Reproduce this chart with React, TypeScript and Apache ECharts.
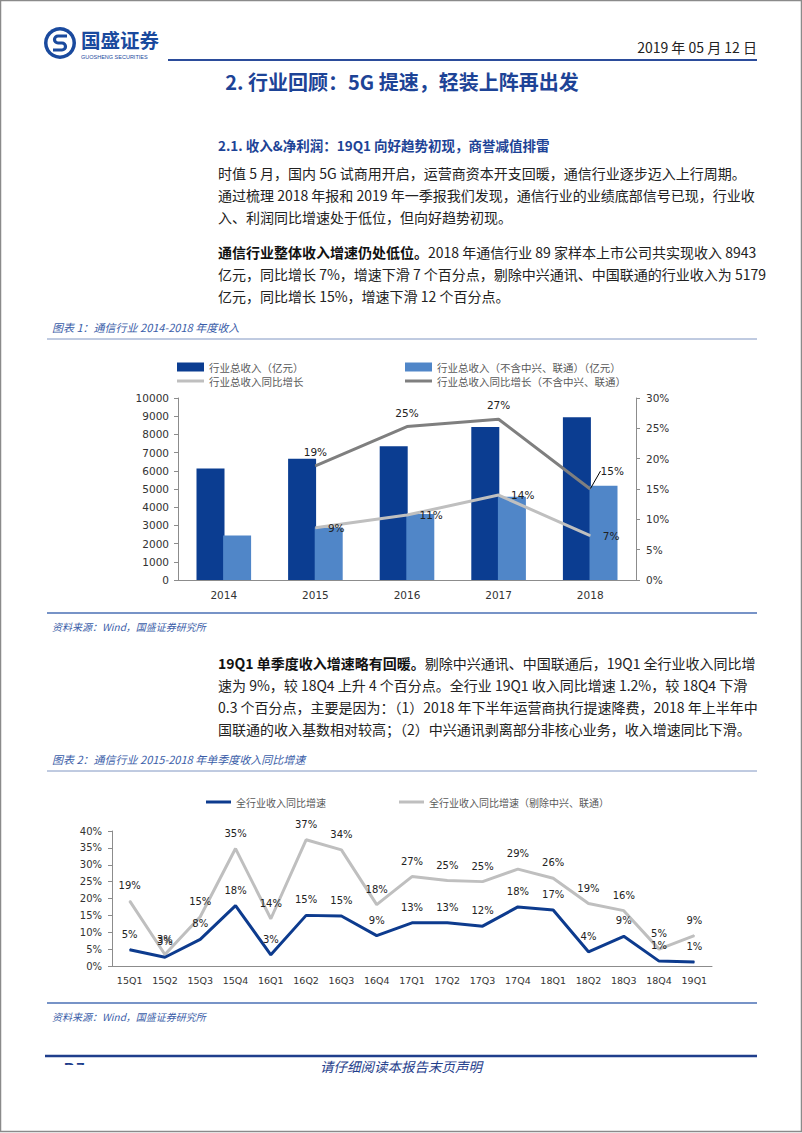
import React, { useEffect, useRef } from "react";
import * as echarts from "echarts";

// ---------- data ----------
const years = ["2014", "2015", "2016", "2017", "2018"];
const revenueTotal = [6120, 6660, 7350, 8400, 8943];
const revenueExcl = [2450, 2880, 3620, 4580, 5179];
const growthTotal = [null, 8.6, 10.7, 14.0, 7.3];
const growthExcl = [null, 18.8, 25.3, 26.5, 15.0];

const quarters = ["15Q1", "15Q2", "15Q3", "15Q4", "16Q1", "16Q2", "16Q3", "16Q4", "17Q1", "17Q2", "17Q3", "17Q4", "18Q1", "18Q2", "18Q3", "18Q4", "19Q1"];
const qGrowthAll = [4.8, 2.6, 7.9, 17.9, 3.3, 15.0, 14.8, 9.0, 12.8, 12.8, 11.8, 17.5, 16.6, 4.2, 8.8, 1.45, 1.2];
const qGrowthExcl = [19.3, 3.4, 14.6, 34.8, 14.0, 37.4, 34.4, 18.2, 26.5, 25.3, 25.0, 28.7, 26.0, 18.5, 16.4, 5.0, 9.0];

const S1 = ["行业总收入（亿元）", "行业总收入（不含中兴、联通）（亿元）", "行业总收入同比增长", "行业总收入同比增长（不含中兴、联通）"];
const S2 = ["全行业收入同比增速", "全行业收入同比增速（剔除中兴、联通）"];

const para1 = [
  "时值 5 月，国内 5G 试商用开启，运营商资本开支回暖，通信行业逐步迈入上行周期。",
  "通过梳理 2018 年报和 2019 年一季报我们发现，通信行业的业绩底部信号已现，行业收",
  "入、利润同比增速处于低位，但向好趋势初现。",
];
const para2 = [
  "{b|通信行业整体收入增速仍处低位。}2018 年通信行业 89 家样本上市公司共实现收入 8943",
  "亿元，同比增长 7%，增速下滑 7 个百分点，剔除中兴通讯、中国联通的行业收入为 5179",
  "亿元，同比增长 15%，增速下滑 12 个百分点。",
];
const para3 = [
  "{b|19Q1 单季度收入增速略有回暖。}剔除中兴通讯、中国联通后，19Q1 全行业收入同比增",
  "速为 9%，较 18Q4 上升 4 个百分点。全行业 19Q1 收入同比增速 1.2%，较 18Q4 下滑",
  "0.3 个百分点，主要是因为：（1）2018 年下半年运营商执行提速降费，2018 年上半年中",
  "国联通的收入基数相对较高；（2）中兴通讯剥离部分非核心业务，收入增速同比下滑。",
];

// ---------- styles ----------
const CJK = "'Noto Sans CJK SC', sans-serif";
const NUM = "'DejaVu Sans', Verdana, sans-serif";
const BLUE = "#1D4396";
const CAP = "#3A5DA8";

echarts.graphic.registerShape(
  "logoS",
  echarts.graphic.extendPath("M7,-7 L-2,-7 A3.5,3.5 0 0 0 -2,0 L2,0 A3.5,3.5 0 0 1 2,7 L-7,7", {})
);

function T(x: number, y: number, text: string, o: any = {}) {
  const style: any = {
    text,
    fill: o.fill || "#222",
    fontSize: o.size || 14,
    fontFamily: o.family || CJK,
    fontWeight: o.weight || "normal",
    fontStyle: o.style || "normal",
    textAlign: o.align || "left",
    textVerticalAlign: "middle",
    align: o.align || "left",
    verticalAlign: "middle",
  };
  if (o.rich) style.rich = o.rich;
  return { type: "text", x, y, z: 10, style };
}
function L(x1: number, y1: number, x2: number, y2: number, color: string, w: number) {
  return { type: "line", z: 10, shape: { x1, y1, x2, y2 }, style: { stroke: color, lineWidth: w } };
}

function buildGraphics() {
  const g: any[] = [];
  g.push({ type: "rect", z: 1, shape: { x: 0.5, y: 0.5, width: 801, height: 1131 }, style: { fill: "none", stroke: "#8a8a8a", lineWidth: 1.5 } });
  // logo
  g.push({ type: "circle", z: 10, shape: { cx: 60, cy: 43, r: 16 }, style: { fill: "#1A4A9E" } });
  g.push({ type: "circle", z: 11, shape: { cx: 60, cy: 43, r: 12.5 }, style: { fill: "#fff" } });
  g.push({ type: "logoS", z: 12, x: 60, y: 43, style: { fill: "none", stroke: "#1A4A9E", lineWidth: 3.2 } });
  g.push(T(81, 39, "国盛证券", { size: 19.5, weight: "bold", fill: "#1A4A9E" }));
  g.push(T(81, 56.5, "GUOSHENG SECURITIES", { size: 5.5, family: "'Liberation Sans', Arial", fill: "#1A4A9E" }));
  g.push(T(757, 47, "2019 年 05 月 12 日", { size: 14, align: "right", fill: "#222" }));
  g.push(L(168, 60, 757, 60, "#2B4C9B", 2));
  // titles
  g.push(T(402, 81, "2. 行业回顾：5G 提速，轻装上阵再出发", { size: 20, weight: "bold", fill: BLUE, align: "center" }));
  g.push(T(218, 145, "2.1. 收入&净利润：19Q1 向好趋势初现，商誉减值排雷", { size: 13.5, weight: "bold", fill: BLUE }));
  const rich = { b: { fontWeight: "bold", fontSize: 14, fontFamily: CJK, fill: "#111" } };
  para1.forEach((t, i) => g.push(T(218, 173 + i * 22, t)));
  para2.forEach((t, i) => g.push(T(218, 252 + i * 22, t, { rich })));
  para3.forEach((t, i) => g.push(T(218, 663 + i * 22, t, { rich })));
  // captions / sources
  g.push(T(52, 327, "图表 1：通信行业 2014-2018 年度收入", { size: 11, style: "italic", fill: CAP }));
  g.push(L(47, 339, 757, 339, "#8096C2", 1));
  g.push(L(47, 613, 757, 613, "#4A6FB5", 1.5));
  g.push(T(52, 626, "资料来源：Wind，国盛证券研究所", { size: 10, style: "italic", fill: CAP }));
  g.push(T(52, 759, "图表 2：通信行业 2015-2018 年单季度收入同比增速", { size: 11, style: "italic", fill: CAP }));
  g.push(L(47, 771, 757, 771, "#8096C2", 1));
  g.push(L(47, 1003, 757, 1003, "#4A6FB5", 1.5));
  g.push(T(52, 1016, "资料来源：Wind，国盛证券研究所", { size: 10, style: "italic", fill: CAP }));
  // footer
  g.push(L(45, 1056, 757, 1056, "#1F3E8C", 2.5));
  g.push(T(64, 1067, "P.7", { size: 15, weight: "bold", family: "'Liberation Sans', Arial", fill: "#1F3E8C" }));
  g.push({ type: "rect", z: 20, shape: { x: 58, y: 1065, width: 40, height: 14 }, style: { fill: "#fff" } });
  g.push(T(401, 1066, "请仔细阅读本报告末页声明", { size: 13.5, style: "italic", fill: "#1F3E8C", align: "center" }));
  return g;
}

const axisGray = "#8c8c8c";
const lblStyle = { color: "#333", fontFamily: NUM, fontSize: 10.5 };
const pct = (p: any) => Math.round(p.value) + "%";

function legendItem(name: string, left: number, top: number, icon: any, fontSize: number) {
  return {
    data: [name],
    left,
    top,
    padding: 0,
    icon: "rect",
    itemWidth: icon.w,
    itemHeight: icon.h,
    textStyle: { color: "#595959", fontFamily: CJK, fontSize, lineHeight: 14 },
  };
}

function lineSeries(name: string, xi: number, yi: number, data: any[], color: string, z: number, label: any, extra: any = {}) {
  return {
    name, type: "line", xAxisIndex: xi, yAxisIndex: yi, data,
    color, lineStyle: { width: 3, color },
    symbol: "circle", symbolSize: 1, showSymbol: true, itemStyle: { color },
    z,
    label: { show: true, color: "#222", fontFamily: NUM, formatter: pct, ...label },
    ...extra,
  };
}

// 2018 label of the "excl." line sits up-right with a guide line
const growthExclData = growthExcl.map((v, i) =>
  i === growthExcl.length - 1
    ? { value: v, labelLine: { show: true, lineStyle: { color: "#000", width: 1 } } }
    : v
);

export default function App() {
  const ref = useRef<HTMLDivElement>(null);
  useEffect(() => {
    document.body.style.margin = "0";
    const chart = echarts.init(ref.current!, undefined, { renderer: "svg" });
    const option: any = {
      animation: false,
      backgroundColor: "#fff",
      textStyle: { fontFamily: NUM },
      grid: [
        { left: 178, right: 166, top: 398, bottom: 553 },
        { left: 112, right: 90, top: 831, bottom: 167 },
      ],
      legend: [
        legendItem(S1[0], 177, 360, { w: 27, h: 9 }, 10.5),
        legendItem(S1[1], 405, 360, { w: 27, h: 9 }, 10.5),
        legendItem(S1[2], 177, 374, { w: 27, h: 3 }, 10.5),
        legendItem(S1[3], 405, 374, { w: 27, h: 3 }, 10.5),
        legendItem(S2[0], 206, 795, { w: 25, h: 3 }, 10),
        legendItem(S2[1], 399, 795, { w: 25, h: 3 }, 10),
      ],
      xAxis: [
        {
          gridIndex: 0, type: "category", data: years,
          axisLine: { lineStyle: { color: axisGray } },
          axisTick: { length: 4, lineStyle: { color: axisGray } },
          axisLabel: { ...lblStyle, margin: 9, interval: 0 },
        },
        {
          gridIndex: 1, type: "category", data: quarters,
          axisLine: { lineStyle: { color: axisGray } },
          axisTick: { length: 5, lineStyle: { color: axisGray } },
          axisLabel: { ...lblStyle, fontSize: 9.5, margin: 9, interval: 0 },
        },
      ],
      yAxis: [
        {
          gridIndex: 0, type: "value", min: 0, max: 10000, interval: 1000,
          axisLine: { show: true, lineStyle: { color: axisGray } },
          axisTick: { show: true, length: 4, lineStyle: { color: axisGray } },
          splitLine: { show: false },
          axisLabel: { ...lblStyle, margin: 9, formatter: (v: number) => String(v) },
        },
        {
          gridIndex: 0, type: "value", position: "right", min: 0, max: 30, interval: 5,
          axisLine: { show: true, lineStyle: { color: axisGray } },
          axisTick: { show: true, length: 4, lineStyle: { color: axisGray } },
          splitLine: { show: false },
          axisLabel: { ...lblStyle, margin: 10, formatter: "{value}%" },
        },
        {
          gridIndex: 1, type: "value", min: 0, max: 40, interval: 5,
          axisLine: { show: true, lineStyle: { color: axisGray } },
          axisTick: { show: true, length: 4, lineStyle: { color: axisGray } },
          splitLine: { show: false },
          axisLabel: { ...lblStyle, fontSize: 10, margin: 10, formatter: "{value}%" },
        },
      ],
      series: [
        {
          name: S1[0], type: "bar", xAxisIndex: 0, yAxisIndex: 0, data: revenueTotal,
          barWidth: 28, barGap: "-5%", itemStyle: { color: "#0B3D91" },
        },
        {
          name: S1[1], type: "bar", xAxisIndex: 0, yAxisIndex: 0, data: revenueExcl,
          barWidth: 28, barGap: "-5%", itemStyle: { color: "#5086C8" },
        },
        lineSeries(S1[2], 0, 1, growthTotal, "#BFBFBF", 5, { position: "right", distance: 12, fontSize: 10.5 }),
        lineSeries(S1[3], 0, 1, growthExclData, "#7F7F7F", 6, { position: "top", distance: 8, fontSize: 10.5 }, {
          labelLayout: (p: any) => (p.dataIndex === 4 ? { dx: 22, dy: -4 } : {}),
        }),
        lineSeries(S2[0], 1, 2, qGrowthAll, "#0D3B8E", 6, { position: "top", distance: 10, fontSize: 10 }),
        lineSeries(S2[1], 1, 2, qGrowthExcl, "#BFBFBF", 5, { position: "top", distance: 10, fontSize: 10 }),
      ],
      graphic: buildGraphics(),
    };
    chart.setOption(option);
    return () => chart.dispose();
  }, []);
  return <div ref={ref} style={{ position: "absolute", left: 0, top: 0, width: 802, height: 1133 }} />;
}
